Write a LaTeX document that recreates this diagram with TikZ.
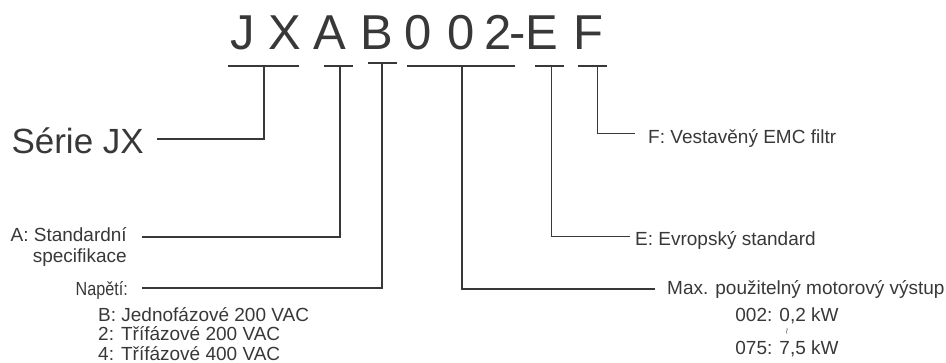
\documentclass[tikz,border=0pt]{standalone}
\usepackage{fontspec}
\setmainfont{Liberation Sans}
\usepackage{xcolor}
\usetikzlibrary{positioning}
\usetikzlibrary{calc}
\definecolor{ink}{HTML}{383838}

\begin{document}
\begin{tikzpicture}[x=1pt,y=-1pt,
		every node/.style={inner sep=0pt, text=ink},
		code/.style={font=\fontsize{49}{49}\selectfont, anchor=base},
		desc/.style={font=\fontsize{19}{21}\selectfont},
		lead/.style={draw=ink, line width=1.7pt},
		thinlead/.style={draw=ink, line width=1pt}]
	\useasboundingbox (0,0) rectangle (946,363);
	% draw code letters
	\node[code] (cJ) at (243,50) {J};
	\node[code] (cX) at (285,50) {X};
	\node[code] (cA) at (330,50) {A};
	\node[code] (cB) at (377,50) {B};
	\node[code] (cZa) at (418,50) {0};
	\node[code] (cZb) at (461,50) {0};
	\node[code] (cTwo) at (498,50) {2};
	\node[code] (cDash) at (518,50) {-};
	\node[code] (cE) at (542,50) {E};
	\node[code] (cF) at (588,50) {F};
	% underlines
	\draw[lead] (228,66) -- (299,66);
	\draw[lead] (324,66) -- (353,66);
	\draw[draw=ink, line width=2.6pt] (368,63) -- (397,63);
	\draw[lead] (407,66) -- (515,66);
	\draw[lead] (535,66) -- (564,66);
	\draw[lead] (578,66) -- (607,66);
	% stem tops
	\coordinate (sJX) at (264,66);
	\coordinate (sA) at (340,66);
	\coordinate (sB) at (382,63);
	\coordinate (sNum) at (462,66);
	\coordinate (sE) at (551,66);
	\coordinate (sF) at (597,66);
	% labels on the left
	\node[font=\fontsize{35}{35}\selectfont, anchor=base east] (serie) at (144,154) {Série JX};
	\node[desc, align=right, anchor=base east] (specA) at (127,263) {A: Standardní\\specifikace};
	\node[desc, anchor=base east] (napeti) at (128,296) {\scalebox{.85}[1]{Napětí:}};
	\node[desc, align=left, anchor=north west, font=\fontsize{19}{19.5}\selectfont] (volts) at (98,307) {B: Jednofázové 200 VAC\\2: Třífázové 200 VAC\\4: Třífázové 400 VAC};
	% labels on the right
	\node[desc, anchor=base west] (filtr) at (648,144) {F: Vestavěný EMC filtr};
	\node[desc, anchor=base west] (evro) at (635,246) {E: Evropský standard};
	\node[desc, anchor=base west] (motor) at (667,295) {Max. použitelný motorový výstup};
	\node[desc, anchor=base] (kwA) at (787,322) {002: 0,2 kW};
	\node[text=ink, font=\fontsize{9}{9}\selectfont] (kwTo) at (787,331) {$\wr$};
	\node[desc, anchor=base] (kwB) at (787,355) {075: 7,5 kW};
	% line ends
	\coordinate (eJX) at (157,139);
	\coordinate (eA) at (142,237);
	\coordinate (eB) at (142,288);
	\coordinate (eNum) at (655,289);
	\coordinate (eE) at (630,237);
	\coordinate (eF) at (635,134);
	% draw leaders
	\draw[lead] (sJX) |- (eJX);
	\draw[lead] (sA) |- (eA);
	\draw[lead] (sB) |- (eB);
	\draw[lead] (sNum) |- (eNum);
	\draw[thinlead] (sE) |- (eE);
	\draw[thinlead] (sF) |- (eF);
\end{tikzpicture}
\end{document}
